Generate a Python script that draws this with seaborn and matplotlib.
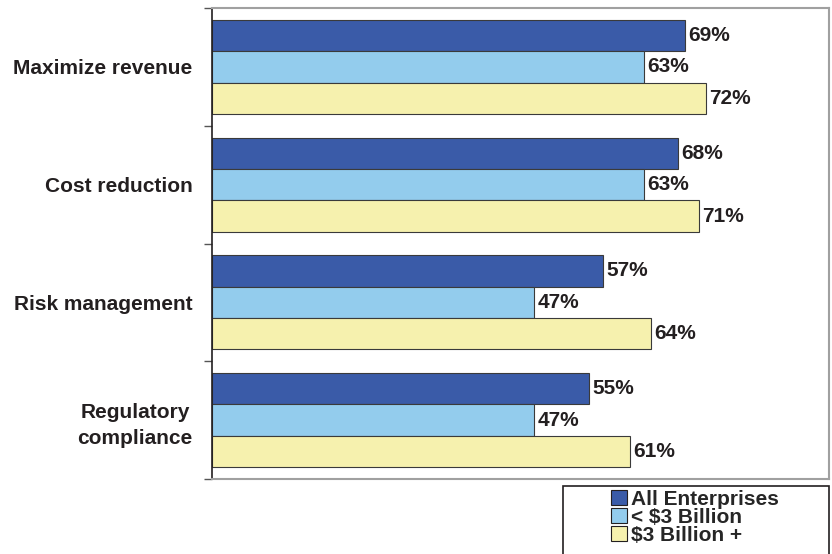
import matplotlib
matplotlib.use("Agg")
import matplotlib.pyplot as plt
from matplotlib.patches import Rectangle, Patch
import seaborn as sns
import pandas as pd

categories = ["Maximize revenue", "Cost reduction", "Risk management", "Regulatory\ncompliance"]
series = ["All Enterprises", "< $3 Billion", "$3 Billion +"]
all_enterprises = [69, 68, 57, 55]
under_3b = [63, 63, 47, 47]
over_3b = [72, 71, 64, 61]
colors = ["#3A5BA8", "#93CCED", "#F6F1AE"]

rows = []
for name, vals in zip(series, [all_enterprises, under_3b, over_3b]):
    for cat, v in zip(categories, vals):
        rows.append({"category": cat, "segment": name, "value": v})
df = pd.DataFrame(rows)

sns.set_style("white")
plt.rcParams["font.family"] = ["Liberation Sans", "DejaVu Sans"]
plt.rcParams["font.weight"] = "bold"

W, H = 832, 554
fig = plt.figure(figsize=(W / 100, H / 100), dpi=100)
ax = fig.add_axes([212 / W, 1 - 479 / H, (829 - 212) / W, (479 - 8) / H])

sns.barplot(data=df, y="category", x="value", hue="segment", order=categories,
            hue_order=series, palette=colors, orient="h", width=0.8,
            edgecolor="#3a3a3a", linewidth=0.8, saturation=1, legend=False, ax=ax)

for cont in ax.containers:
    ax.bar_label(cont, labels=[f"{int(v)}%" for v in cont.datavalues], padding=2.5,
                 fontsize=15, fontweight="bold", color="#231f20")

ax.set_xlim(0, 90)
ax.set_ylim(len(categories) - 0.5, -0.5)
ax.set_xlabel("")
ax.set_ylabel("")
ax.set_xticks([])
ax.set_yticks(range(len(categories)))
ax.set_yticklabels(categories, fontsize=15, fontweight="bold", color="#231f20",
                   multialignment="center", linespacing=1.45)
ax.tick_params(axis="y", which="major", length=0, pad=14)
ax.set_yticks([i - 0.5 for i in range(len(categories) + 1)], minor=True)
ax.tick_params(axis="y", which="minor", length=6, width=1, color="#555555", left=True)

for side in ["top", "right", "bottom"]:
    ax.spines[side].set_color("#a0a0a0")
    ax.spines[side].set_linewidth(1.5)
ax.spines["left"].set_color("#231f20")
ax.spines["left"].set_linewidth(1.2)

# Legend box below the plot, anchored at the bottom-right corner
fig.add_artist(Rectangle((563 / W, -0.01), (829 - 563) / W, (H - 486) / H + 0.01,
                         transform=fig.transFigure, facecolor="white",
                         edgecolor="#231f20", linewidth=1.2))
handles = [Patch(facecolor=c, edgecolor="#231f20", linewidth=0.8) for c in colors]
fig.legend(handles, series, loc="upper left", bbox_to_anchor=(611 / W, 1 - 490 / H),
           frameon=False, prop={"weight": "bold", "size": 15},
           handlelength=0.75, handleheight=0.75, handletextpad=0.2,
           labelspacing=-0.05, borderpad=0, borderaxespad=0)

fig.savefig("out.png", dpi=100)
